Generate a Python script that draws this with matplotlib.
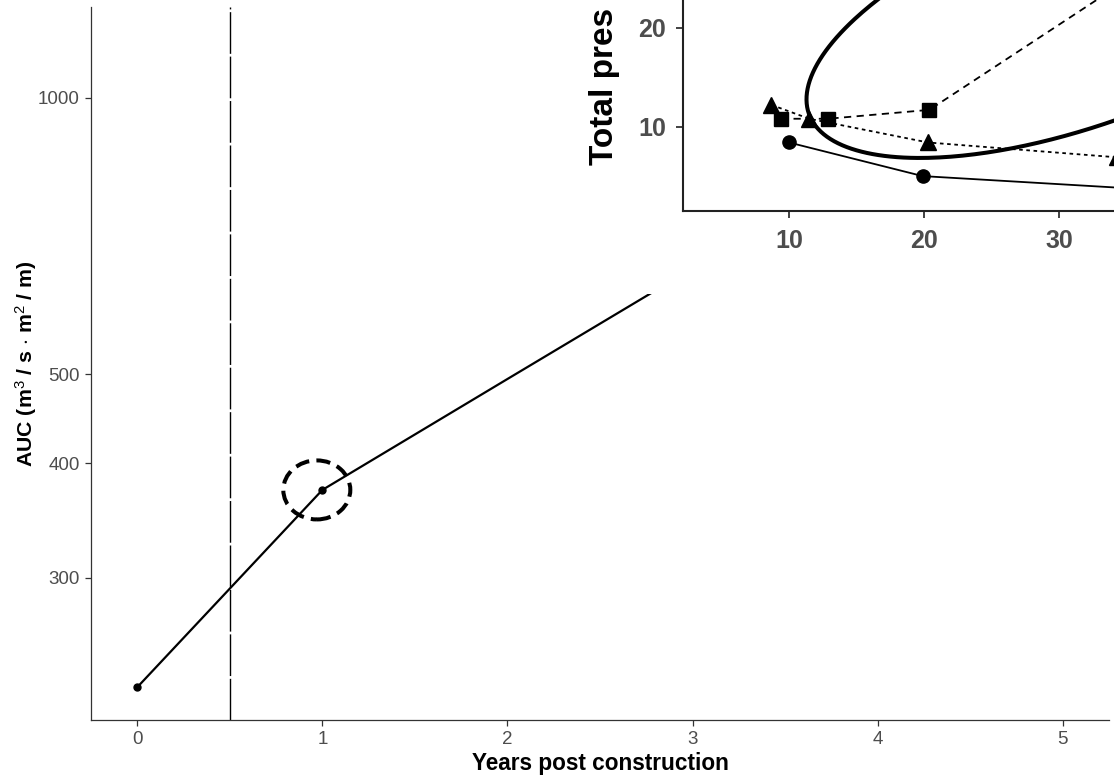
import numpy as np
import matplotlib
matplotlib.use("Agg")
import matplotlib.pyplot as plt
from matplotlib.patches import Ellipse
from matplotlib.ticker import NullLocator
from matplotlib.transforms import ScaledTranslation

plt.rcParams["font.family"] = ["Liberation Sans", "DejaVu Sans"]
plt.rcParams["mathtext.fontset"] = "custom"
plt.rcParams["mathtext.rm"] = "Liberation Sans"
plt.rcParams["mathtext.bf"] = "Liberation Sans:bold"
plt.rcParams["mathtext.it"] = "Liberation Sans:italic"

# main panel: AUC against years after construction
years = [0, 1, 2, 3, 4, 5]
auc = [228, 374, 494, 652, 861, 1150]
marked_years = [0, 1]
marked_auc = [228, 374]
x_ticks = [0, 1, 2, 3, 4, 5]
y_ticks = [300, 400, 500, 1000]

# inset panel (pasted picture, partly cut off)
circ_x = [10.0, 19.9, 36.0]
circ_y = [8.4, 5.0, 3.7]
sq_x = [9.4, 12.9, 20.4, 36.0]
sq_y = [10.8, 10.8, 11.7, 25.7]
tri_x = [8.7, 11.5, 20.3, 34.3]
tri_y = [12.2, 10.8, 8.4, 6.9]
inset_xticks = [10, 20, 30]
inset_yticks = [10, 20]

# big highlight ellipse in the inset: centre, major and minor half-axis vectors
ell_c = (32.2, 21.6)
ell_a = (20.7, 10.39)
ell_b = (-2.9, 10.49)

W, H = 1114, 779
fig = plt.figure(figsize=(W / 100, H / 100), dpi=100)


def frac(x0, y0, x1, y1):
    # pixel box (top-left origin) -> figure fraction rect
    return [x0 / W, 1 - y1 / H, (x1 - x0) / W, (y1 - y0) / H]


ax = fig.add_axes(frac(91, 7, 1109, 720))
ax.set_yscale("log")
ax.plot(years, auc, color="black", lw=1.6, zorder=3)
ax.plot(marked_years, marked_auc, "o", color="black", ms=5, zorder=4)
ax.axvline(0.5, color="black", lw=1.0, linestyle=(0, (30, 2)))

ring = Ellipse((0, 0), width=0.67, height=0.59, fill=False, ec="black", lw=2.9,
               linestyle=(0, (3.5, 1.8)),
               transform=fig.dpi_scale_trans + ScaledTranslation(0.97, 374, ax.transData))
ax.add_artist(ring)

ax.set_xlim(-0.25, 5.25)
ax.set_ylim(210, 1256)
ax.set_xticks(x_ticks)
ax.set_xticklabels([str(v) for v in x_ticks])
ax.set_yticks(y_ticks)
ax.set_yticklabels([str(v) for v in y_ticks])
ax.yaxis.set_minor_locator(NullLocator())
for s in ["top", "right"]:
    ax.spines[s].set_visible(False)
for s in ["left", "bottom"]:
    ax.spines[s].set_color("#333333")
    ax.spines[s].set_linewidth(0.9)
ax.tick_params(colors="#333333", labelcolor="#4D4D4D", labelsize=13.5, length=4, width=0.9, pad=4)
ax.set_xlabel("Years post construction", fontsize=16.3, fontweight="bold", labelpad=3)
ax.set_ylabel(r"AUC (m$^3$ / s $\cdot$ m$^2$ / m)", fontsize=15.3,
              fontweight="bold", labelpad=-1)

# white block of the pasted inset
box = fig.add_axes(frac(585, 0, 1114, 294))
box.set_xticks([])
box.set_yticks([])
for s in box.spines.values():
    s.set_visible(False)
box.set_zorder(2)

ins = fig.add_axes(frac(683, 210.7 - 262, 683 + 511, 210.7))
ins.set_zorder(3)
ins.patch.set_alpha(0)
ins.plot(circ_x, circ_y, "-", color="black", lw=1.3, marker="o", ms=9.5)
ins.plot(sq_x, sq_y, linestyle=(0, (4, 3)), color="black", lw=1.3, marker="s", ms=10)
ins.plot(tri_x, tri_y, linestyle=(0, (2, 2)), color="black", lw=1.3, marker="^", ms=11)

t = np.linspace(0, 2 * np.pi, 400)
ex = ell_c[0] + ell_a[0] * np.cos(t) + ell_b[0] * np.sin(t)
ey = ell_c[1] + ell_a[1] * np.cos(t) + ell_b[1] * np.sin(t)
ins.plot(ex, ey, color="black", lw=2.9)

ins.set_xlim(2.15, 40)
ins.set_ylim(1.5, 28)
ins.set_xticks(inset_xticks)
ins.set_yticks(inset_yticks)
for s in ["top", "right"]:
    ins.spines[s].set_visible(False)
for s in ["left", "bottom"]:
    ins.spines[s].set_color("#222222")
    ins.spines[s].set_linewidth(1.5)
ins.tick_params(colors="#333333", labelcolor="#4D4D4D", labelsize=18, length=5, width=1.3)
ins.tick_params(axis="x", pad=8)
ins.tick_params(axis="y", pad=7)
for lbl in ins.get_xticklabels() + ins.get_yticklabels():
    lbl.set_fontweight("bold")

fig.text(605 / W, 1 - 165 / H, "Total pres", rotation=90, ha="center", va="bottom",
         fontsize=24, fontweight="bold", zorder=5)

fig.savefig("out.png", dpi=100)
